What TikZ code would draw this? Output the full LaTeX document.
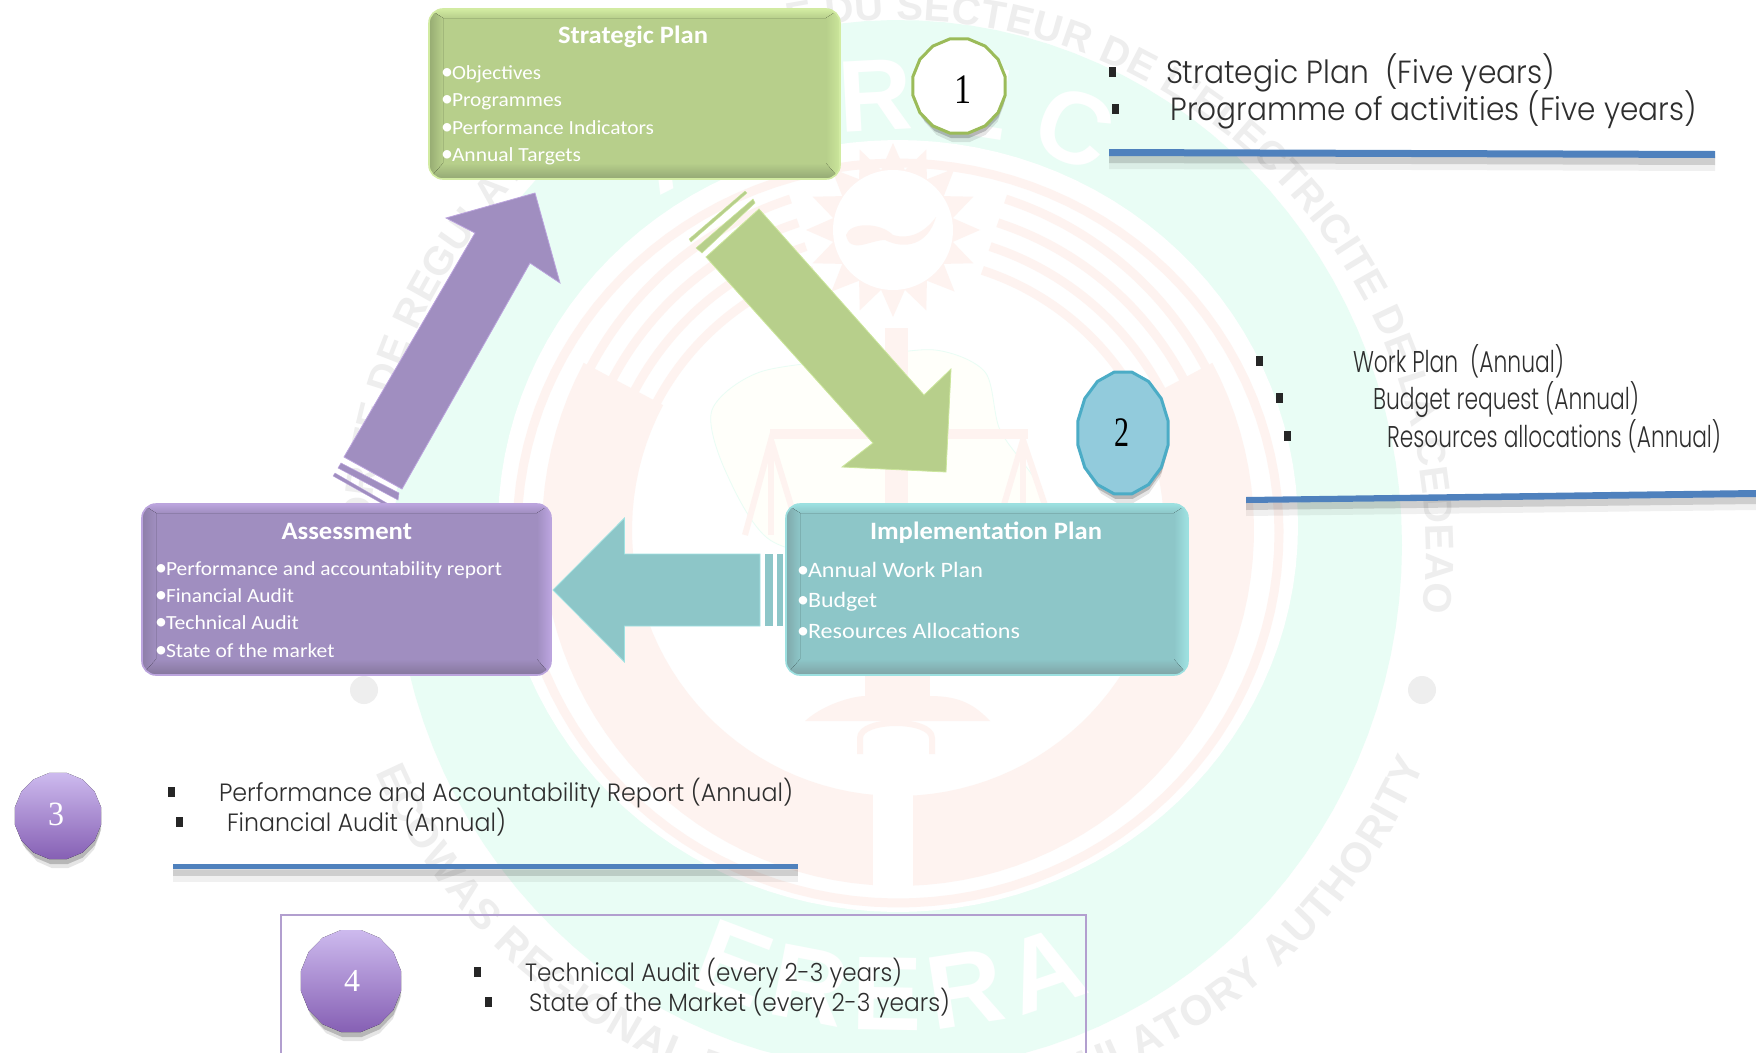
\documentclass[tikz,border=0pt]{standalone}
\usepackage{fontspec}
\usepackage{graphicx}
\usetikzlibrary{decorations.text}
\newfontfamily\cari{Carlito}
\newfontfamily\goth[UprightFont={* Light}]{Poppins}
\newfontfamily\wmf{Liberation Sans}[BoldFont={Liberation Sans Bold}]
\newfontfamily\numf{Liberation Serif}
\definecolor{mint}{HTML}{E9FDF5}
\definecolor{pinkw}{HTML}{FEF3F0}
\definecolor{graywm}{HTML}{EEEEEE}
\definecolor{grnT}{HTML}{D2EBA2}\definecolor{grnM}{HTML}{B7CF8B}\definecolor{grnD}{HTML}{93A874}\definecolor{grnL}{HTML}{96AB72}\definecolor{grnR}{HTML}{CBE69B}
\definecolor{purT}{HTML}{BBA4DD}\definecolor{purM}{HTML}{A08EC0}\definecolor{purD}{HTML}{85769C}\definecolor{purL}{HTML}{8E7FA8}\definecolor{purR}{HTML}{BCA5E0}
\definecolor{telT}{HTML}{9CE0E0}\definecolor{telM}{HTML}{8DC6C8}\definecolor{telD}{HTML}{7FA3A5}\definecolor{telL}{HTML}{7FA9AB}\definecolor{telR}{HTML}{A0E2E2}
\definecolor{barblue}{HTML}{4F81BD}
\definecolor{txtgray}{HTML}{2E2E2E}
\definecolor{oneedge}{HTML}{9BBB59}
\definecolor{twoedge}{HTML}{4BACC6}
\definecolor{twofill}{HTML}{92CBDC}
\definecolor{ovalA}{HTML}{CDBAEE}
\definecolor{ovalB}{HTML}{A98AD6}
\definecolor{ovalC}{HTML}{8660B4}
\tikzset{
  nodetext/.style={anchor=base west,inner sep=0pt,outer sep=0pt},
  titletext/.style={nodetext,text=white},
  itemtext/.style={nodetext,text=white},
  listtext/.style={nodetext,text=txtgray},
  sqbullet/.style={fill=black!85,inner sep=0pt,minimum width=7pt,minimum height=10pt},
  numlabel/.style={anchor=center,inner sep=0pt,outer sep=0pt},
  wmband/.style={pinkw,line width=9pt},
}
% name, x, y, width, style, font, text
\newcommand\ftxt[7]{\node[#5](#1) at (#2,#3){#6\resizebox{#4pt}{\height}{#7}};}
\newcommand\itm[6]{\node[itemtext](#1) at (#2,#3){#6\makebox[0pt][r]{\makebox[11pt][l]{\fontsize{24}{24}\selectfont\textbullet}}\resizebox{#4pt}{\height}{#5}};}
% color prefix, x0,y0,x1,y1
\newcommand\bevel[5]{%
  \begin{scope}
  \clip[rounded corners=14pt] (#2,#3) rectangle (#4,#5);
  \fill[#1M] (#2,#3) rectangle (#4,#5);
  \fill[top color=#1T,bottom color=#1M] (#2,#3) -- (#4,#3) -- ({#4-14},{#3+9}) -- ({#2+14},{#3+9}) -- cycle;
  \fill[top color=#1M,bottom color=#1D] ({#2+14},{#5-16}) -- ({#4-14},{#5-16}) -- (#4,#5) -- (#2,#5) -- cycle;
  \fill[left color=#1L,right color=#1M] (#2,#3) -- ({#2+14},{#3+9}) -- ({#2+14},{#5-16}) -- (#2,#5) -- cycle;
  \fill[left color=#1M,right color=#1R] ({#4-14},{#3+9}) -- (#4,#3) -- (#4,#5) -- ({#4-14},{#5-16}) -- cycle;
  \end{scope}
  \draw[#1T,line width=1.6pt,rounded corners=14pt] (#2,#3) rectangle (#4,#5);
}
% cx cy rx ry
\newcommand\ovalpath[4]{plot[domain=0:360,samples=17,variable=\t] ({#1+(#3)*cos(\t+11.25)},{#2+(#4)*sin(\t+11.25)}) -- cycle}
\newcommand\ovalshadow[4]{%
  \fill[black,opacity=.10] \ovalpath{#1+2}{#2+9}{#3-3}{#4};
  \fill[black,opacity=.20] \ovalpath{#1+1}{#2+5}{#3-1}{#4};
}
\newcommand\barshadow[8]{%
  \fill[black,opacity=.06] (#1,#2+6) -- (#3,#4+6) -- (#5,#6+13) -- (#7,#8+13) -- cycle;
  \fill[black,opacity=.14] (#1,#2+5) -- (#3,#4+5) -- (#5,#6+7) -- (#7,#8+7) -- cycle;
  \fill[barblue] (#1,#2) -- (#3,#4) -- (#5,#6) -- (#7,#8) -- cycle;
}
\begin{document}
\begin{tikzpicture}[x=1pt,y=-1pt]
\useasboundingbox (0,0) rectangle (1756,1052);
\begin{scope}
\clip (0,0) rectangle (1756,1052);
\fill[white] (0,0) rectangle (1756,1052);
% mint disc
\fill[mint] plot[domain=0:360,samples=120,variable=\t] ({898+504*cos(\t)},{545+525*sin(\t)}) -- cycle;
% ARREC
\path[decorate,decoration={text along path,text align={fit to path},text color=white,text={|\wmf\bfseries\fontsize{102}{102}\selectfont|ARREC}}]
  plot[domain=122:64,samples=40,variable=\t] ({898+450*cos(\t)},{580-450*sin(\t)});
% ERERA
\path[decorate,decoration={text along path,text align={fit to path},text color=white,text={|\wmf\bfseries\fontsize{105}{105}\selectfont|ERERA}}]
  plot[domain=245:293,samples=40,variable=\t] ({898+495*cos(\t)},{535-495*sin(\t)});
% white inner disc
\fill[white] plot[domain=0:360,samples=120,variable=\t] ({898+400*cos(\t)},{526+386*sin(\t)}) -- cycle;
\draw[pinkw,line width=9pt] plot[domain=0:360,samples=120,variable=\t] ({898+381*cos(\t)},{533+370*sin(\t)}) -- cycle;
% stripes
\foreach \r in {273,298,323,348}{
  \draw[wmband] plot[domain=72:27,samples=30,variable=\t] ({898+\r*cos(\t)},{530-\r*sin(\t)});
  \draw[wmband] plot[domain=108:153,samples=30,variable=\t] ({898+\r*cos(\t)},{530-\r*sin(\t)});
}
% crescent
\fill[pinkw] plot[domain=28:-208,samples=80,variable=\t] ({898+356*cos(\t)},{530-356*sin(\t)})
  -- plot[domain=-208:28,samples=80,variable=\t] ({898+266*cos(\t)},{530-266*sin(\t)}) -- cycle;
\fill[white] (873,780) rectangle (913,893);
% sun
\fill[pinkw] plot[domain=0:360,samples=33,variable=\t] ({893+(74+13*cos(16*\t))*cos(\t)},{230-(74+13*cos(16*\t))*sin(\t)}) -- cycle;
\fill[white] (893,230) circle[radius=60];
\fill[pinkw] (846,235) .. controls (850,222) and (880,222) .. (893,235) .. controls (910,240) and (925,232) .. (936,217) .. controls (928,245) and (905,250) .. (885,240) .. controls (870,240) and (850,255) .. (846,235) -- cycle;
% africa
\fill[yellow!2] plot[smooth cycle] coordinates {(712,410) (760,372) (860,358) (935,350) (985,372) (1000,430) (1035,480) (1045,520) (985,560) (860,560) (770,540) (725,470)};
\draw[mint,line width=.8pt] plot[smooth cycle] coordinates {(712,410) (760,372) (860,358) (935,350) (985,372) (1000,430) (1035,480) (1045,520) (985,560) (860,560) (770,540) (725,470)};
% scales
\fill[pinkw] (885,328) rectangle (908,700);
\fill[pinkw] (770,429) rectangle (1028,439);
\draw[pinkw,line width=6pt] (745,535) -- (771,440) -- (800,535);
\draw[pinkw,line width=6pt] (771,440) -- (771,535);
\draw[pinkw,line width=6pt] (995,535) -- (1023,440) -- (1055,535);
\draw[pinkw,line width=6pt] (1023,440) -- (1023,535);
\fill[pinkw] (865,670) rectangle (930,697);
\fill[pinkw] (805,721) .. controls (825,703) and (855,696) .. (865,696) -- (930,696) .. controls (960,696) and (975,705) .. (990,721) -- cycle;
\draw[pinkw,line width=6pt] (860,754) -- (860,738) .. controls (860,718) and (932,718) .. (932,738) -- (932,754);
% dots
\fill[graywm] (364,690) circle[radius=14];
\fill[graywm] (1422,690) circle[radius=14];
% circular text
\path[decorate,decoration={text along path,text align={fit to path},text color=graywm,text={|\wmf\bfseries\fontsize{40}{40}\selectfont|AUTORITE DE REGULATION REGIONALE DU SECTEUR DE L'ELECTRICITE DE LA CEDEAO}}]
  plot[domain=187:-7,samples=100,variable=\t] ({898+528*cos(\t)},{548-528*sin(\t)});
\path[decorate,decoration={text along path,text align={fit to path},text color=graywm,text={|\wmf\bfseries\fontsize{42}{42}\selectfont|ECOWAS REGIONAL ELECTRICITY REGULATORY AUTHORITY}}]
  plot[domain=204:337,samples=80,variable=\t] ({898+572*cos(\t)},{540-572*sin(\t)});
\end{scope}

% blue bars
\barshadow{1109}{149}{1715}{151}{1715}{158}{1109}{156}
\barshadow{1246}{497}{1756}{490}{1756}{497}{1246}{503}
\barshadow{173}{864}{798}{864}{798}{869}{173}{869}

% frame
\draw[draw=purT!85!gray,line width=1.5pt] (281,1053) -- (281,915) -- (1086,915) -- (1086,1053);

% green arrow
\fill[grnM,draw=grnR,line width=.8pt] (759,209) -- (924,395) -- (951,369) -- (946,472) -- (842,467) -- (873,443) -- (706,257) -- cycle;
\fill[grnM,draw=grnR,line width=.5pt] (753,199) -- (755,203) -- (702,253) -- (696,248) -- cycle;
\fill[grnM,draw=grnR,line width=.3pt] (745,191) -- (747,193) -- (691,242) -- (689,239) -- cycle;
% purple arrow
\fill[purM,draw=purT,line width=.8pt] (344,457) -- (475,233) -- (446,218) -- (535,193) -- (560,283) -- (530,263) -- (402,489) -- cycle;
\fill[purM,draw=purT,line width=.5pt] (341,463) -- (399,493) -- (398,500) -- (338,468) -- cycle;
\fill[purM,draw=purT,line width=.3pt] (335,473) -- (392,506) -- (390,508) -- (333,476) -- cycle;
% teal arrow
\fill[telM,draw=telR,line width=.8pt] (553,590) -- (624.5,518) -- (624.5,554) -- (760,554) -- (760,626) -- (624.5,626) -- (624.5,662) -- cycle;
\fill[telM] (765,554) rectangle (772.5,626);
\fill[telM] (777,554) rectangle (783,626);

% boxes
\bevel{grn}{429}{9}{840}{179}
\bevel{pur}{142}{504}{551}{675}
\bevel{tel}{786}{504}{1188}{675}

% strategic plan
\ftxt{sptitle}{558}{43}{150}{titletext}{\cari\bfseries\fontsize{25}{25}\selectfont}{Strategic Plan}
\itm{sp1}{452}{79}{89}{Objectives}{\cari\fontsize{20}{20}\selectfont}
\itm{sp2}{452}{106}{110}{Programmes}{\cari\fontsize{20}{20}\selectfont}
\itm{sp3}{452}{134}{202}{Performance Indicators}{\cari\fontsize{20}{20}\selectfont}
\itm{sp4}{452}{161}{129}{Annual Targets}{\cari\fontsize{20}{20}\selectfont}
% assessment
\ftxt{astitle}{281.5}{539}{130.5}{titletext}{\cari\bfseries\fontsize{25}{25}\selectfont}{Assessment}
\itm{as1}{166}{575}{336}{Performance and accountability report}{\cari\fontsize{20}{20}\selectfont}
\itm{as2}{166}{602}{128}{Financial Audit}{\cari\fontsize{20}{20}\selectfont}
\itm{as3}{166}{629}{133}{Technical Audit}{\cari\fontsize{20}{20}\selectfont}
\itm{as4}{166}{657}{168.5}{State of the market}{\cari\fontsize{20}{20}\selectfont}
% implementation
\ftxt{iptitle}{870}{539}{232}{titletext}{\cari\bfseries\fontsize{25}{25}\selectfont}{Implementation Plan}
\itm{ip1}{808}{577}{175}{Annual Work Plan}{\cari\fontsize{22}{22}\selectfont}
\itm{ip2}{808}{607}{69}{Budget}{\cari\fontsize{22}{22}\selectfont}
\itm{ip3}{808}{638}{212}{Resources Allocations}{\cari\fontsize{22}{22}\selectfont}

% numbered shapes
\ovalshadow{959}{86}{47}{48}
\draw[draw=oneedge,fill=white,line width=3pt] \ovalpath{959}{86}{47}{48};
\node[numlabel,text=black](n1) at (963,90){\numf\fontsize{42}{42}\selectfont\resizebox{17pt}{\height}{1}};
\ovalshadow{1123}{433}{46}{62}
\draw[draw=twoedge,fill=twofill,line width=3pt] \ovalpath{1123}{433}{46}{62};
\node[numlabel,text=black](n2) at (1122,433){\numf\fontsize{42}{42}\selectfont\resizebox{15pt}{\height}{2}};
\ovalshadow{58}{816}{44}{44}
\fill[top color=ovalA,middle color=ovalB,bottom color=ovalC] \ovalpath{58}{816}{44}{44};
\node[numlabel,text=white](n3) at (56,814){\numf\fontsize{34}{34}\selectfont\resizebox{16pt}{\height}{3}};
\ovalshadow{351}{981}{51}{52}
\fill[top color=ovalA,middle color=ovalB,bottom color=ovalC] \ovalpath{351}{981}{51}{52};
\node[numlabel,text=white](n4) at (352,981){\numf\fontsize{32}{32}\selectfont\resizebox{16pt}{\height}{4}};

% lists
\newcommand\lfa{\goth\fontsize{32}{32}\selectfont}
\newcommand\lfb{\goth\fontsize{30}{30}\selectfont}
\newcommand\lfc{\goth\fontsize{25}{25}\selectfont}
\node[sqbullet](b1) at (1112,72){};
\ftxt{l1}{1166}{83}{389}{listtext}{\lfa}{Strategic Plan\ \ (Five years)}
\node[sqbullet](b2) at (1115,109){};
\ftxt{l2}{1170.5}{120}{526}{listtext}{\lfa}{Programme of activities (Five years)}
\node[sqbullet](b3) at (1259,361){};
\ftxt{l3}{1353}{372}{211}{listtext}{\lfb}{Work Plan\ \ (Annual)}
\node[sqbullet](b4) at (1279,398){};
\ftxt{l4}{1373}{409}{266}{listtext}{\lfb}{Budget request (Annual)}
\node[sqbullet](b5) at (1287,436){};
\ftxt{l5}{1387}{447}{334}{listtext}{\lfb}{Resources allocations (Annual)}
\node[sqbullet](b6) at (171,792){};
\ftxt{l6}{219}{801}{574}{listtext}{\lfc}{Performance and Accountability Report (Annual)}
\node[sqbullet](b7) at (179,822){};
\ftxt{l7}{227}{831}{279}{listtext}{\lfc}{Financial Audit (Annual)}
\node[sqbullet](b8) at (477,972){};
\ftxt{l8}{525}{981}{377}{listtext}{\lfc}{Technical Audit (every 2-3 years)}
\node[sqbullet](b9) at (488,1002){};
\ftxt{l9}{529}{1011}{421}{listtext}{\lfc}{State of the Market (every 2-3 years)}
\end{tikzpicture}
\end{document}
